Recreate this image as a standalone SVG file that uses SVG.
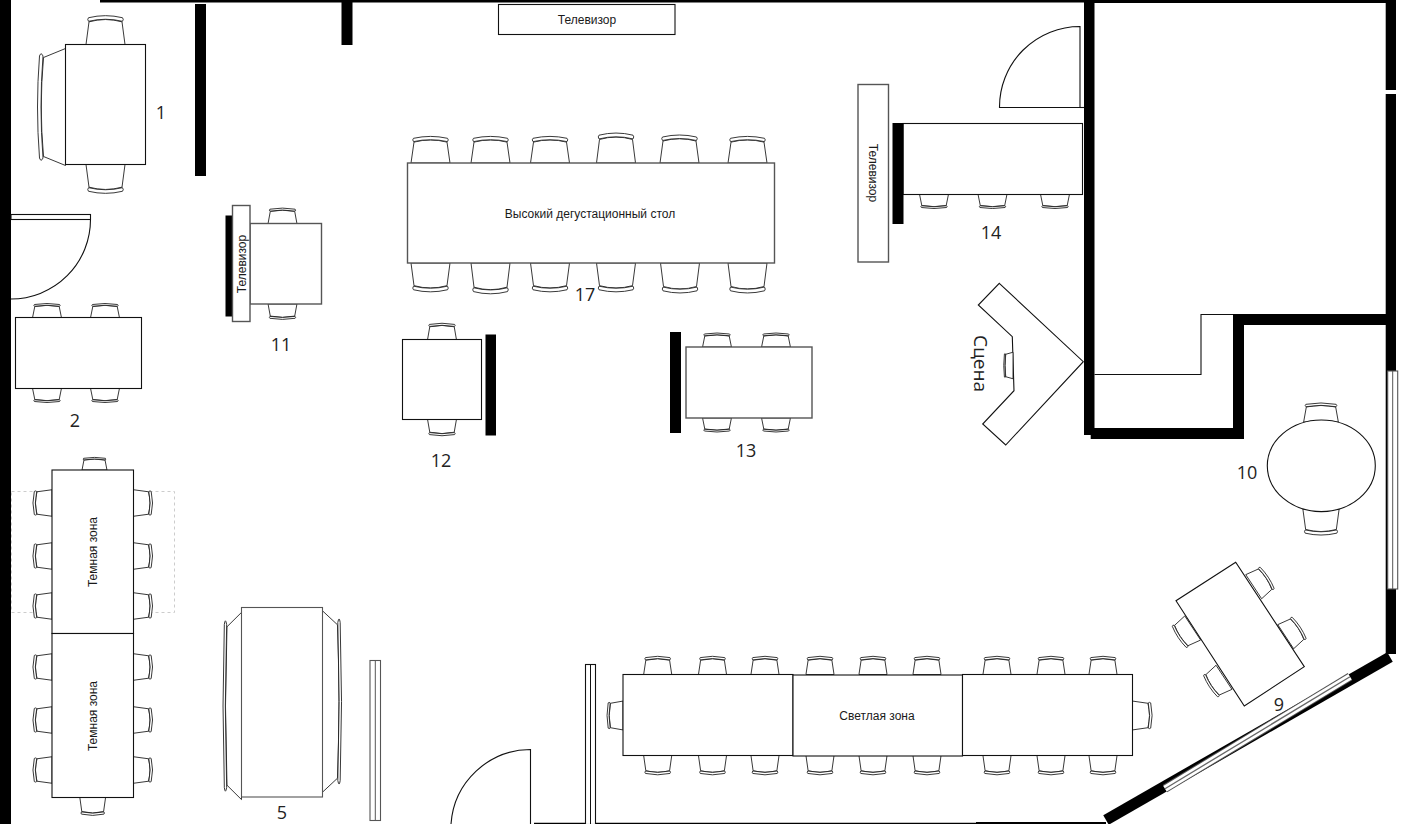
<svg xmlns="http://www.w3.org/2000/svg" xmlns:xlink="http://www.w3.org/1999/xlink" width="1401" height="824" viewBox="0 0 1401 824">
<style>
text{font-family:"Liberation Sans",Arial,sans-serif;font-size:12px;fill:#1a1a1a;text-anchor:middle}
text.n{font-family:"Open Sans","Noto Sans",sans-serif;font-size:18px;fill:#222}
.w{fill:#000;stroke:none}
.t{fill:#fff;stroke:#111;stroke-width:1.1}
.g{fill:#fff;stroke:#555;stroke-width:1.4}
.l{fill:none;stroke:#111;stroke-width:1.1}
.p{fill:#fff;stroke:#555;stroke-width:1.1}
.ch path{fill:#fff;stroke:#222;stroke-width:.9;vector-effect:non-scaling-stroke}
</style>
<defs>
<g id="c" class="ch">
<path d="M-19.500 0L-16.500 -22Q0 -26.500 16.500 -22L19.500 0Z"/>
<path d="M-17 -22.500Q0 -26.500 17 -22.500Q18.500 -24.500 17 -26Q0 -30 -17 -26Q-18.500 -24.500 -17 -22.500Z"/>
</g>
</defs>
<rect width="1401" height="824" fill="#fff"/>
<g id="walls">
<rect class="w" x="0" y="0" width="11" height="824"/>
<rect class="w" x="100" y="0" width="988" height="2.500"/>
<rect class="w" x="1088" y="0" width="308" height="3"/>
<rect class="w" x="195" y="4" width="11" height="172"/>
<rect class="w" x="341.500" y="0" width="11" height="45"/>
<rect class="w" x="1084" y="0" width="10.500" height="435"/>
<rect class="w" x="1385.700" y="0" width="10.300" height="90"/>
<rect class="w" x="1385.700" y="94" width="10.300" height="560"/>
<rect class="w" x="1233" y="314" width="153" height="11"/>
<rect class="w" x="1233" y="314" width="11" height="125"/>
<rect class="w" x="1090.700" y="428" width="153.300" height="11"/>
<path class="l" d="M1094.500 374.500H1201V314.500H1233"/>
<path d="M534 823.500H976" stroke="#000" stroke-width="1.500"/>
<path d="M976 823H1106" stroke="#000" stroke-width="2"/>
<path d="M1390 657L1106 820" stroke="#000" stroke-width="11"/>
</g>
<g id="zone-dashed"><rect x="11.500" y="491.500" width="163" height="121" fill="none" stroke="#ccc" stroke-dasharray="3 3"/></g>
<g id="label-9"><text class="n" x="1279" y="711">9</text></g>
<g id="window-diagonal">
<path d="M1350 676.700L1165 788.700" stroke="#555" stroke-width="8.500"/>
<path d="M1350 676.700L1165 788.700" stroke="#fff" stroke-width="6.500"/>
<path d="M1350 676.700L1165 788.700" stroke="#666" stroke-width="1.300"/>
</g>
<g id="window-right"><rect class="p" x="1387.700" y="371" width="10" height="218"/><path d="M1392.700 371V589" stroke="#555"/></g>
<g id="partition-1"><rect class="p" x="370" y="660.500" width="10.500" height="160"/><path d="M375.300 660.500V820.500" stroke="#555"/></g>
<g id="partition-2"><rect class="t" x="585.500" y="664.500" width="10" height="160"/><path d="M590.500 664.500V824" stroke="#111"/></g>
<g id="door-left"><path class="l" d="M90.500 219.500A79.500 79.500 0 0 1 11 299"/><rect class="t" x="11" y="214.500" width="79.500" height="5"/></g>
<g id="door-right"><path class="t" d="M1080 26.500A80.500 80.500 0 0 0 999.500 107.500H1080Z"/><path class="l" d="M1080 107.500H1084"/></g>
<g id="door-bottom"><path class="l" d="M530.500 824V749.500A80 80 0 0 0 451 824"/></g>
<g id="tv-top"><rect class="t" x="498.500" y="4.500" width="176.500" height="30"/><text x="587" y="24">Телевизор</text></g>
<g id="table-1">
<use href="#c" transform="translate(105.500 44.500) scale(1 1.030)"/>
<use href="#c" transform="translate(105.500 164.500) rotate(180) scale(1 1.030)"/>
<use href="#c" transform="translate(65.500 107) rotate(-90) scale(3 1)"/>
<rect class="t" x="65.500" y="44.500" width="80" height="120"/>
<text class="n" x="161" y="119">1</text>
</g>
<g id="table-2">
<use href="#c" transform="translate(47 317.500) scale(.74 .5)"/>
<use href="#c" transform="translate(105 317.500) scale(.74 .5)"/>
<use href="#c" transform="translate(47 388.500) rotate(180) scale(.74 .5)"/>
<use href="#c" transform="translate(105 388.500) rotate(180) scale(.74 .5)"/>
<rect class="t" x="15.500" y="317.500" width="126" height="71"/>
<text class="n" x="75" y="427">2</text>
</g>
<g id="table-11">
<use href="#c" transform="translate(282.500 223.500) scale(.74 .55)"/>
<use href="#c" transform="translate(282.500 304) rotate(180) scale(.74 .55)"/>
<rect class="g" x="250" y="223.500" width="71.500" height="80.500"/>
<rect class="w" x="225.500" y="215.500" width="8" height="101"/>
<rect class="g" x="232.500" y="205.500" width="17.500" height="116"/>
<text transform="translate(246 264) rotate(-90)">Телевизор</text>
<text class="n" x="281" y="351">11</text>
</g>
<g id="table-17">
<use href="#c" transform="translate(430.500 163) scale(1 .95)"/>
<use href="#c" transform="translate(490.500 163) scale(1 .95)"/>
<use href="#c" transform="translate(550 163) scale(1 .95)"/>
<use href="#c" transform="translate(616 163) scale(1 1.070)"/>
<use href="#c" transform="translate(679.500 163) scale(1 1)"/>
<use href="#c" transform="translate(747.500 163) scale(1 .95)"/>
<use href="#c" transform="translate(430.500 263) rotate(180) scale(1 1.030)"/>
<use href="#c" transform="translate(490.500 263) rotate(180) scale(1 1.100)"/>
<use href="#c" transform="translate(550 263) rotate(180) scale(1 1.030)"/>
<use href="#c" transform="translate(616 263) rotate(180) scale(1 1.030)"/>
<use href="#c" transform="translate(680 263) rotate(180) scale(1 1.070)"/>
<use href="#c" transform="translate(747.500 263) rotate(180) scale(1 1.070)"/>
<rect class="g" x="407.500" y="163" width="367" height="100"/>
<text x="590" y="218">Высокий дегустационный стол</text>
<text class="n" x="585" y="301">17</text>
</g>
<g id="table-12">
<use href="#c" transform="translate(442 339.500) scale(.74 .58)"/>
<use href="#c" transform="translate(442 419.500) rotate(180) scale(.74 .58)"/>
<rect class="t" x="402.500" y="339.500" width="79" height="80"/>
<rect class="w" x="485.500" y="334.500" width="10.500" height="101"/>
<text class="n" x="441" y="467">12</text>
</g>
<g id="table-13">
<use href="#c" transform="translate(717 347) scale(.74 .5)"/>
<use href="#c" transform="translate(776 347) scale(.74 .5)"/>
<use href="#c" transform="translate(717 418) rotate(180) scale(.74 .5)"/>
<use href="#c" transform="translate(776 418) rotate(180) scale(.74 .5)"/>
<rect class="g" x="686" y="347" width="126" height="71"/>
<rect class="w" x="670" y="332" width="11" height="101"/>
<text class="n" x="746" y="457">13</text>
</g>
<g id="table-14">
<use href="#c" transform="translate(934 194.500) rotate(180) scale(.74 .5)"/>
<use href="#c" transform="translate(992.500 194.500) rotate(180) scale(.74 .5)"/>
<use href="#c" transform="translate(1055 194.500) rotate(180) scale(.74 .5)"/>
<rect class="t" x="903" y="123.500" width="179.500" height="71"/>
<rect class="w" x="892.500" y="123" width="11" height="101"/>
<rect class="g" x="858" y="84.500" width="30.500" height="177.500"/>
<text transform="translate(869 173) rotate(90)">Телевизор</text>
<text class="n" x="991" y="239">14</text>
</g>
<g id="stage">
<path class="t" d="M999.300 283.300L1083.300 361.700L1005.700 445L982.700 424L1014 390.700L1012.300 336.700L978.300 305Z"/>
<use href="#c" transform="translate(1013 365.500) rotate(-90) scale(.68 .33)"/>
<text class="n" style="font-size:19px" transform="translate(974 363.500) rotate(90)">Сцена</text>
</g>
<g id="table-dark-1">
<use href="#c" transform="translate(94.500 470) scale(.64 .45)"/>
<use href="#c" transform="translate(52 503) rotate(-90) scale(.68 .68)"/>
<use href="#c" transform="translate(52 556) rotate(-90) scale(.68 .68)"/>
<use href="#c" transform="translate(52 606) rotate(-90) scale(.68 .68)"/>
<use href="#c" transform="translate(133.500 503) rotate(90) scale(.68 .68)"/>
<use href="#c" transform="translate(133.500 556) rotate(90) scale(.68 .68)"/>
<use href="#c" transform="translate(133.500 606) rotate(90) scale(.68 .68)"/>
<rect class="t" x="52" y="470" width="81.500" height="163.500"/>
<text transform="translate(97 552) rotate(-90)">Темная зона</text>
</g>
<g id="table-dark-2">
<use href="#c" transform="translate(92.700 797.500) rotate(180) scale(.66 .64)"/>
<use href="#c" transform="translate(52 667) rotate(-90) scale(.68 .68)"/>
<use href="#c" transform="translate(52 720) rotate(-90) scale(.68 .68)"/>
<use href="#c" transform="translate(52 770) rotate(-90) scale(.68 .68)"/>
<use href="#c" transform="translate(133.500 667) rotate(90) scale(.68 .68)"/>
<use href="#c" transform="translate(133.500 720) rotate(90) scale(.68 .68)"/>
<use href="#c" transform="translate(133.500 770) rotate(90) scale(.68 .68)"/>
<rect class="t" x="52" y="633.500" width="81.500" height="164"/>
<text transform="translate(97 716) rotate(-90)">Темная зона</text>
</g>
<g id="table-5">
<use href="#c" transform="translate(241.500 706) rotate(-90) scale(4.800 .66)"/>
<use href="#c" transform="translate(322.500 701.500) rotate(90) scale(4.650 .68)"/>
<rect class="p" x="241.500" y="607.500" width="81" height="189.500"/>
<text class="n" x="282" y="819">5</text>
</g>
<g id="table-light">
<use href="#c" transform="translate(657.700 674.500) scale(.72 .65)"/>
<use href="#c" transform="translate(712.500 674.500) scale(.72 .65)"/>
<use href="#c" transform="translate(765 674.500) scale(.72 .65)"/>
<use href="#c" transform="translate(820 674.500) scale(.72 .65)"/>
<use href="#c" transform="translate(873 674.500) scale(.72 .65)"/>
<use href="#c" transform="translate(927 674.500) scale(.72 .65)"/>
<use href="#c" transform="translate(997 674.500) scale(.72 .65)"/>
<use href="#c" transform="translate(1051 674.500) scale(.72 .65)"/>
<use href="#c" transform="translate(1103 674.500) scale(.72 .65)"/>
<use href="#c" transform="translate(657.700 755.500) rotate(180) scale(.72 .69)"/>
<use href="#c" transform="translate(712.500 755.500) rotate(180) scale(.72 .69)"/>
<use href="#c" transform="translate(765 755.500) rotate(180) scale(.72 .69)"/>
<use href="#c" transform="translate(820 755.500) rotate(180) scale(.72 .69)"/>
<use href="#c" transform="translate(873 755.500) rotate(180) scale(.72 .69)"/>
<use href="#c" transform="translate(927 755.500) rotate(180) scale(.72 .69)"/>
<use href="#c" transform="translate(997 755.500) rotate(180) scale(.72 .69)"/>
<use href="#c" transform="translate(1051 755.500) rotate(180) scale(.72 .69)"/>
<use href="#c" transform="translate(1103 755.500) rotate(180) scale(.72 .69)"/>
<use href="#c" transform="translate(623 715.500) rotate(-90) scale(.74 .57)"/>
<use href="#c" transform="translate(1132.500 715.500) rotate(90) scale(.74 .7)"/>
<rect class="t" x="623" y="674.500" width="170" height="81"/>
<rect class="t" x="793" y="675" width="169.500" height="81"/>
<rect class="t" x="962.500" y="674.500" width="170" height="81"/>
<text x="877" y="720">Светлая зона</text>
</g>
<g id="table-10">
<use href="#c" transform="translate(1321 422) scale(.89 .68)"/>
<use href="#c" transform="translate(1321 509) rotate(180) scale(.93 .93)"/>
<ellipse class="t" cx="1321.300" cy="465.800" rx="54" ry="45.800"/>
<text class="n" x="1247" y="479">10</text>
</g>
<g id="table-9">
<use href="#c" transform="translate(1253.700 586.700) rotate(56.600) scale(.74 .62)"/>
<use href="#c" transform="translate(1285.700 636.700) rotate(56.600) scale(.74 .62)"/>
<use href="#c" transform="translate(1192.700 628) rotate(-123.400) scale(.74 .62)"/>
<use href="#c" transform="translate(1224 677.300) rotate(-123.400) scale(.74 .62)"/>
<path class="t" d="M1235.700 562.300L1176 600.700L1244.300 706L1304.300 666.700Z"/>
</g>
</svg>
